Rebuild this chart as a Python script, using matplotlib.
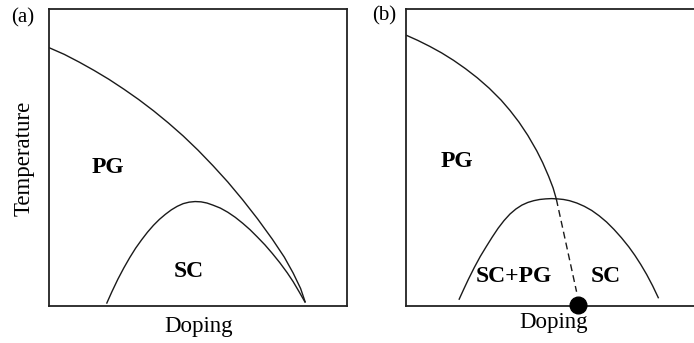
import matplotlib
matplotlib.use("Agg")
import matplotlib.pyplot as plt

plt.rcParams['font.family'] = ['Liberation Serif', 'DejaVu Serif']

# Panel (a): pseudogap line and superconducting dome (axes fractions)
pg_a_x = [0.000, 0.050, 0.100, 0.150, 0.200, 0.250, 0.300, 0.350, 0.400, 0.450,
          0.500, 0.550, 0.600, 0.650, 0.700, 0.750, 0.790, 0.820, 0.845, 0.860]
pg_a_y = [0.870, 0.848, 0.822, 0.794, 0.764, 0.731, 0.696, 0.658, 0.617, 0.573,
          0.525, 0.473, 0.418, 0.358, 0.294, 0.225, 0.165, 0.111, 0.059, 0.015]
sc_a_x = [0.193, 0.210, 0.230, 0.250, 0.270, 0.290, 0.310, 0.330, 0.350, 0.370,
          0.390, 0.410, 0.430, 0.450, 0.470, 0.490, 0.510, 0.530, 0.550, 0.575,
          0.600, 0.625, 0.650, 0.675, 0.700, 0.725, 0.750, 0.775, 0.800, 0.820,
          0.840, 0.860]
sc_a_y = [0.010, 0.048, 0.090, 0.128, 0.163, 0.195, 0.223, 0.249, 0.272, 0.292,
          0.309, 0.324, 0.336, 0.345, 0.350, 0.352, 0.351, 0.347, 0.340, 0.330,
          0.316, 0.299, 0.279, 0.257, 0.232, 0.206, 0.177, 0.146, 0.112, 0.082,
          0.048, 0.013]

# Panel (b): pseudogap line ending on the dome, dome, hidden line to the QCP
pg_b_x = [0.000, 0.040, 0.080, 0.120, 0.160, 0.200, 0.240, 0.280, 0.320, 0.350,
          0.380, 0.410, 0.440, 0.460, 0.480, 0.495, 0.506]
pg_b_y = [0.913, 0.895, 0.875, 0.853, 0.828, 0.800, 0.769, 0.734, 0.694, 0.659,
          0.620, 0.575, 0.523, 0.483, 0.437, 0.398, 0.360]
sc_b_x = [0.179, 0.195, 0.210, 0.230, 0.250, 0.270, 0.290, 0.310, 0.330, 0.350,
          0.370, 0.390, 0.410, 0.430, 0.450, 0.470, 0.490, 0.510, 0.530, 0.550,
          0.575, 0.600, 0.625, 0.650, 0.675, 0.700, 0.725, 0.750, 0.770, 0.790,
          0.810, 0.830, 0.849]
sc_b_y = [0.023, 0.058, 0.090, 0.130, 0.167, 0.200, 0.232, 0.262, 0.288, 0.310,
          0.327, 0.340, 0.349, 0.355, 0.359, 0.361, 0.362, 0.361, 0.359, 0.355,
          0.347, 0.336, 0.322, 0.304, 0.283, 0.258, 0.230, 0.199, 0.171, 0.140,
          0.106, 0.068, 0.028]
dash_b_x = [0.506, 0.574]
dash_b_y = [0.360, 0.048]
qcp_x, qcp_y = 0.580, 0.003

fig = plt.figure(figsize=(6.94, 3.43), dpi=100)
ax_a = fig.add_axes([0.0713, 0.1079, 0.4282, 0.8650])
ax_b = fig.add_axes([0.5850, 0.1079, 0.4282, 0.8650])

lc = '#1a1a1a'
for ax in (ax_a, ax_b):
    ax.set_xlim(0, 1)
    ax.set_ylim(0, 1)
    ax.set_xticks([])
    ax.set_yticks([])
    for s in ax.spines.values():
        s.set_linewidth(1.3)
        s.set_color('#222222')

ax_a.plot(pg_a_x, pg_a_y, color=lc, lw=1.0)
ax_a.plot(sc_a_x, sc_a_y, color=lc, lw=1.0)
ax_a.text(0.195, 0.468, 'PG', fontsize=17, fontweight='bold', ha='center', va='center')
ax_a.text(0.469, 0.116, 'SC', fontsize=17, fontweight='bold', ha='center', va='center')

ax_b.plot(pg_b_x, pg_b_y, color=lc, lw=1.0)
ax_b.plot(sc_b_x, sc_b_y, color=lc, lw=1.0)
ax_b.plot(dash_b_x, dash_b_y, color=lc, lw=1.0, dashes=(5, 3))
ax_b.plot([qcp_x], [qcp_y], 'o', color='black', ms=12, clip_on=False, zorder=5)
ax_b.text(0.171, 0.486, 'PG', fontsize=17, fontweight='bold', ha='center', va='center')
ax_b.text(0.363, 0.099, 'SC+PG', fontsize=17, fontweight='bold', ha='center', va='center')
ax_b.text(0.673, 0.101, 'SC', fontsize=17, fontweight='bold', ha='center', va='center')

fig.text(0.0346, 0.539, 'Temperature', fontsize=16.5, rotation=90, ha='center', va='center')
fig.text(0.2857, 0.048, 'Doping', fontsize=16.5, ha='center', va='center')
fig.text(0.798, 0.061, 'Doping', fontsize=16.5, ha='center', va='center')
fig.text(0.033, 0.949, '(a)', fontsize=15, ha='center', va='center')
fig.text(0.553, 0.953, '(b)', fontsize=15, ha='center', va='center')

fig.savefig('out.png', dpi=100)
